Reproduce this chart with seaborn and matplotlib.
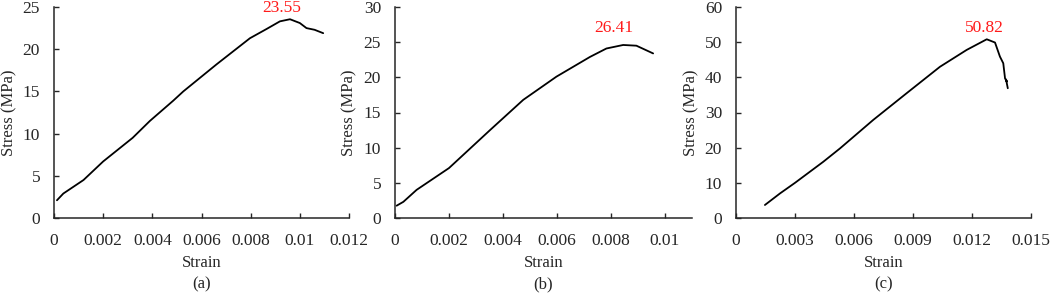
import numpy as np
import pandas as pd
import seaborn as sns
import matplotlib.pyplot as plt
from matplotlib.ticker import FixedLocator, FixedFormatter

# stress-strain curves
strain_a = [0.00012, 0.00038, 0.0012, 0.0020, 0.0032, 0.0039, 0.00485, 0.00526, 0.00661,
            0.00797, 0.00865, 0.00919, 0.0096, 0.0100, 0.01027, 0.0106, 0.01095]
stress_a = [2.1, 2.9, 4.5, 6.7, 9.5, 11.5, 13.9, 15.0, 18.2,
            21.3, 22.4, 23.3, 23.55, 23.1, 22.5, 22.3, 21.9]

strain_b = [0.00006, 0.00031, 0.0008, 0.0020, 0.00352, 0.00475, 0.00598, 0.00722,
            0.00783, 0.00845, 0.00894, 0.00956]
stress_b = [1.75, 2.3, 4.0, 7.1, 12.5, 16.8, 20.1, 22.9, 24.1, 24.6, 24.5, 23.4]

strain_c = [0.00147, 0.00224, 0.0030, 0.00444, 0.00529, 0.00698, 0.00868, 0.01037, 0.01173,
            0.01275, 0.01317, 0.01342, 0.01359, 0.01368, 0.01377, 0.01373, 0.01382]
stress_c = [3.7, 7.0, 10.0, 16.0, 19.8, 27.9, 35.5, 43.0, 47.8,
            50.82, 49.9, 45.9, 44.0, 39.7, 38.8, 39.4, 36.9]

peak_labels = ["23.55", "26.41", "50.82"]
peak_xy = [(0.00927, 24.9), (0.0081, 27.0), (0.01263, 53.9)]

xticks_a = ["0", "0.002", "0.004", "0.006", "0.008", "0.01", "0.012"]
xticks_b = ["0", "0.002", "0.004", "0.006", "0.008", "0.01"]
xticks_c = ["0", "0.003", "0.006", "0.009", "0.012", "0.015"]
xtick_pos_a = [0, 0.002, 0.004, 0.006, 0.008, 0.010, 0.012]
xtick_pos_b = [0, 0.002, 0.004, 0.006, 0.008, 0.010]
xtick_pos_c = [0, 0.003, 0.006, 0.009, 0.012, 0.015]
yticks_a = [0, 5, 10, 15, 20, 25]
yticks_b = [0, 5, 10, 15, 20, 25, 30]
yticks_c = [0, 10, 20, 30, 40, 50, 60]
panel_tags = ["(a)", "(b)", "(c)"]

sns.set_style("ticks")
plt.rcParams["font.family"] = ["Liberation Serif", "DejaVu Serif"]
plt.rcParams["axes.linewidth"] = 1.1

fs_tick = 12.5
fs_lab = 12

fig = plt.figure(figsize=(10.52, 2.96), dpi=100)
boxes = [
    [54 / 1052, 78 / 296, 295 / 1052, 211 / 296],
    [395 / 1052, 78 / 296, 297 / 1052, 211 / 296],
    [736 / 1052, 78 / 296, 295 / 1052, 211 / 296],
]
curves = [(strain_a, stress_a), (strain_b, stress_b), (strain_c, stress_c)]
xlims = [0.012, 0.011, 0.015]
ylims = [25, 30, 60]
xpos = [xtick_pos_a, xtick_pos_b, xtick_pos_c]
xlabs = [xticks_a, xticks_b, xticks_c]
ypos = [yticks_a, yticks_b, yticks_c]

for i in range(3):
    ax = fig.add_axes(boxes[i])
    df = pd.DataFrame({"strain": curves[i][0], "stress": curves[i][1]})
    sns.lineplot(data=df, x="strain", y="stress", estimator=None, sort=False,
                 color="black", linewidth=1.3, ax=ax)
    ax.set_xlim(0, xlims[i])
    ax.set_ylim(0, ylims[i])
    ax.xaxis.set_major_locator(FixedLocator(xpos[i]))
    ax.xaxis.set_major_formatter(FixedFormatter(xlabs[i]))
    ax.set_yticks(ypos[i])
    ax.tick_params(direction="in", length=3.5, width=1.0, labelsize=fs_tick)
    ax.tick_params(axis="x", pad=11)
    ax.tick_params(axis="y", pad=10)
    ax.spines["right"].set_visible(False)
    ax.spines["top"].set_visible(False)
    ax.set_xlabel("Strain", fontsize=fs_lab)
    ax.set_ylabel("Stress (MPa)", fontsize=fs_lab)
    ax.xaxis.set_label_coords(0.5, -0.175)
    ax.yaxis.set_label_coords(-0.125, 0.5)
    ax.text(0.5, -0.313, panel_tags[i], transform=ax.transAxes,
            ha="center", va="center", fontsize=fs_lab)
    ax.text(peak_xy[i][0], peak_xy[i][1], peak_labels[i], color="#ff1a1a",
            ha="center", va="center", fontsize=fs_tick)

plt.savefig("out.png", dpi=100)
